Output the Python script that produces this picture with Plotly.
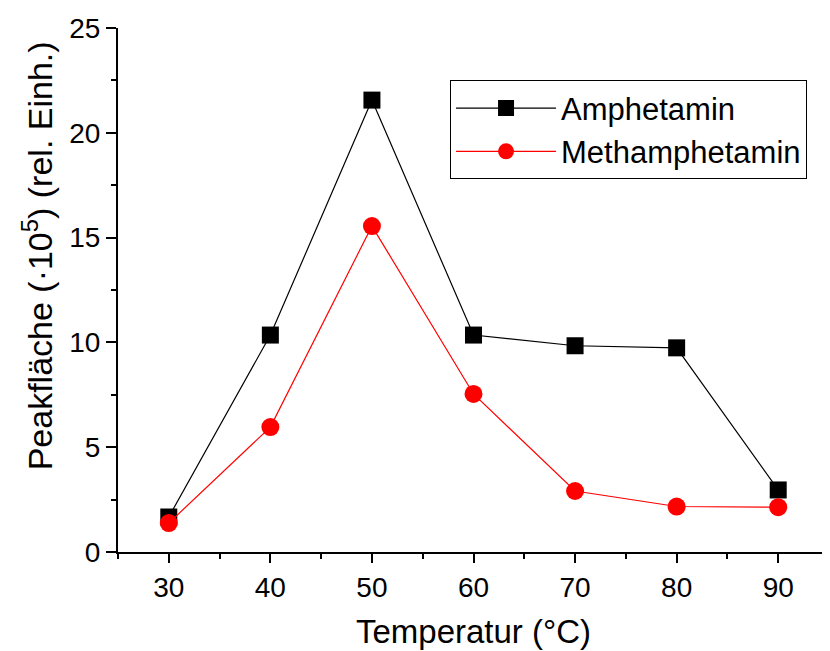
import plotly.graph_objects as go

temperature = [30, 40, 50, 60, 70, 80, 90]
amphetamin = [1.67, 10.35, 21.56, 10.35, 9.84, 9.74, 2.96]
methamphetamin = [1.38, 5.96, 15.55, 7.54, 2.91, 2.17, 2.14]

x_ticks = [30, 40, 50, 60, 70, 80, 90]
y_ticks = [0, 5, 10, 15, 20, 25]

FONT = "Liberation Sans, Arial, sans-serif"

fig = go.Figure()
fig.add_trace(go.Scatter(
    x=temperature, y=amphetamin, name="Amphetamin", mode="lines+markers",
    line=dict(color="black", width=1.2),
    marker=dict(symbol="square", size=17, color="black"),
))
fig.add_trace(go.Scatter(
    x=temperature, y=methamphetamin, name="Methamphetamin", mode="lines+markers",
    line=dict(color="#ff0000", width=1.2),
    marker=dict(symbol="circle", size=18, color="#ff0000"),
))

fig.update_layout(
    width=822, height=643,
    paper_bgcolor="white", plot_bgcolor="white",
    margin=dict(l=110, r=1, t=20, b=99, autoexpand=False),
    font=dict(family=FONT, color="black", size=28),
    showlegend=True,
    legend=dict(
        x=0.467, y=0.9, xanchor="left", yanchor="top",
        bordercolor="black", borderwidth=1, bgcolor="white",
        font=dict(size=31, family=FONT),
        itemwidth=100,
        tracegroupgap=0,
    ),
    annotations=[dict(
        text="Peakfläche (·10<sup>5</sup>) (rel. Einh.)",
        xref="paper", yref="paper", x=-0.114, y=0.566,
        xanchor="center", yanchor="middle", textangle=-90,
        showarrow=False, font=dict(size=34, family=FONT, color="black"),
    )],
)

fig.update_xaxes(
    range=[25, 95], tickvals=x_ticks, ticktext=[str(v) for v in x_ticks],
    showline=True, linecolor="black", linewidth=2,
    ticks="outside", ticklen=9, tickwidth=2, tickcolor="black",
    minor=dict(ticks="outside", ticklen=5, tickwidth=2, tickcolor="black", dtick=5, tick0=25),
    showgrid=False, zeroline=False, mirror=False, automargin=False,
    tickfont=dict(size=28),
    title=dict(text="Temperatur (°C)", font=dict(size=33), standoff=18),
)
fig.update_yaxes(
    range=[0, 25], tickvals=y_ticks, ticktext=[str(v) for v in y_ticks],
    showline=True, linecolor="black", linewidth=2,
    ticks="outside", ticklen=10, tickwidth=2, tickcolor="black",
    minor=dict(ticks="outside", ticklen=5, tickwidth=2, tickcolor="black", dtick=2.5, tick0=0),
    showgrid=False, zeroline=False, mirror=False, automargin=False,
    tickfont=dict(size=28),
)

fig.write_html("out.html")
